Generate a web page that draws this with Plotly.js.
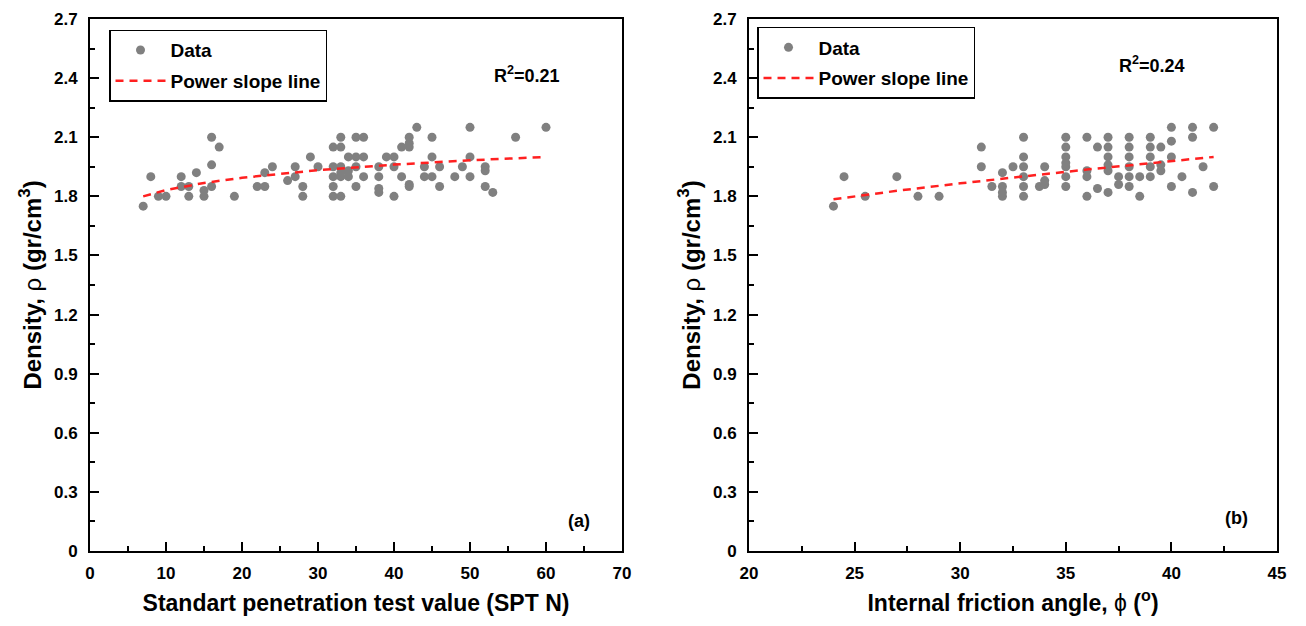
<!DOCTYPE html>
<html>
<head>
<meta charset="utf-8">
<script src="https://cdn.plot.ly/plotly-3.0.1.min.js"></script>
<style>html,body{margin:0;padding:0;background:#fff;}#chart{width:1306px;height:626px;}</style>
</head>
<body>
<div id="chart"></div>
<script>
// Panel (a): SPT N vs density
const sptN = [7,8,9,10,12,12,13,13,14,15,15,16,17,16,16,19,23,24,22,23,26,27,27,28,28,29,30,32,33,33,32,33,32,33,32,32,33,33,34,34,34,35,36,35,36,35,36,35,38,38,38,38,39,40,40,41,42,42,42,41,40,42,42,43,45,45,44,44,45,46,46,48,49,50,50,50,52,52,52,53,56,60];
const densA = [1.75,1.9,1.8,1.8,1.9,1.85,1.85,1.8,1.92,1.83,1.8,2.1,2.05,1.96,1.85,1.8,1.92,1.95,1.85,1.85,1.88,1.95,1.9,1.85,1.8,2.0,1.95,2.05,2.1,2.05,1.95,1.95,1.9,1.9,1.85,1.8,1.8,1.92,1.93,2.0,1.9,2.1,2.1,2.0,2.0,1.95,1.9,1.85,1.95,1.9,1.84,1.82,2.0,2.0,1.95,2.05,2.1,2.07,2.05,1.9,1.8,1.86,1.85,2.15,2.1,2.0,1.95,1.9,1.9,1.95,1.85,1.9,1.95,2.15,2.0,1.9,1.95,1.93,1.85,1.82,2.1,2.15];
const fitAx = [7,10,15,20,30,40,50,60];
const fitAy = [1.80,1.832,1.868,1.894,1.933,1.961,1.983,2.0];

// Panel (b): internal friction angle vs density
const phi = [24,24.5,25.5,27,28,29,31,31,31.5,32,32,32,32,32.5,33,33,33,33,33,33,34,34,34,33.75,35,35,35,35,35,35,35,36,36,36,36,36.5,36.5,37,37,37,37,37,37,37.5,37.5,38,38,38,38,38,38,38.5,38.5,39,39,39,39,39,39.5,39.5,39.5,40,40,40,40,40.5,41,41,41,41.5,42,42];
const densB = [1.75,1.9,1.8,1.9,1.8,1.8,2.05,1.95,1.85,1.92,1.85,1.82,1.8,1.95,2.1,2.0,1.95,1.9,1.85,1.8,1.95,1.88,1.86,1.85,2.1,2.05,2.0,1.97,1.95,1.9,1.85,2.1,1.93,1.9,1.8,1.84,2.05,2.1,2.05,2.0,1.96,1.93,1.82,1.9,1.86,2.1,2.05,2.0,1.95,1.9,1.85,1.9,1.8,2.1,2.05,2.0,1.95,1.9,2.05,1.96,1.93,1.85,2.15,2.08,2.0,1.9,1.82,2.15,2.1,1.95,2.15,1.85];
const fitBx = [24,27,30,33,36,39,42];
const fitBy = [1.785,1.828,1.866,1.902,1.936,1.968,2.0];

const xTicksA = [0,10,20,30,40,50,60,70];
const xTicksB = [20,25,30,35,40,45];
const yTicks = [0,0.3,0.6,0.9,1.2,1.5,1.8,2.1,2.4,2.7];
const yTickText = ['0','0.3','0.6','0.9','1.2','1.5','1.8','2.1','2.4','2.7'];

const FONT = 'Liberation Sans, Arial, sans-serif';
const marker = {color:'#808080', size:9, symbol:'circle'};
const fitLine = {color:'#ff2020', width:2.5, dash:'8px,6px'};

const traces = [
  {x:sptN, y:densA, type:'scatter', mode:'markers', name:'Data', marker:marker, xaxis:'x', yaxis:'y', legend:'legend', legendgroup:'a1'},
  {x:fitAx, y:fitAy, type:'scatter', mode:'lines', name:'Power slope line', line:fitLine, xaxis:'x', yaxis:'y', legend:'legend', legendgroup:'a2'},
  {x:phi, y:densB, type:'scatter', mode:'markers', name:'Data', marker:marker, xaxis:'x2', yaxis:'y2', legend:'legend2', legendgroup:'b1'},
  {x:fitBx, y:fitBy, type:'scatter', mode:'lines', name:'Power slope line', line:fitLine, xaxis:'x2', yaxis:'y2', legend:'legend2', legendgroup:'b2'}
];

const W = 1306;
const tickFont = {family:FONT, size:17, color:'#000', weight:'bold'};
function xAxis(dom, range, ticks, minorD, title, anchor){
  return {domain:dom, range:range, tickmode:'array', tickvals:ticks, ticktext:ticks.map(String),
    ticks:'inside', ticklen:9, tickwidth:2, tickcolor:'#000',
    minor:{ticks:'inside', ticklen:5, tickwidth:2, tickcolor:'#000', dtick:minorD, tick0:0, showgrid:false},
    showline:true, linewidth:2, linecolor:'#000', mirror:true, showgrid:false, zeroline:false,
    tickfont:tickFont, ticklabelstandoff:6, anchor:anchor,
    title:{text:title, font:{family:FONT, size:23, color:'#000'}, standoff:12}};
}
function yAxis(anchor){
  return {domain:[0,1], range:[0,2.7], tickmode:'array', tickvals:yTicks, ticktext:yTickText,
    ticks:'inside', ticklen:9, tickwidth:2, tickcolor:'#000',
    minor:{ticks:'inside', ticklen:5, tickwidth:2, tickcolor:'#000', dtick:0.15, tick0:0, showgrid:false},
    showline:true, linewidth:2, linecolor:'#000', mirror:true, showgrid:false, zeroline:false,
    tickfont:tickFont, ticklabelstandoff:7, anchor:anchor,
    title:{text:'<b>Density, </b>ρ<b> (gr/cm<sup>3</sup>)</b>', font:{family:FONT, size:24, color:'#000'}, standoff:6}};
}
const legendStyle = {font:{family:FONT, size:19, color:'#000', weight:'bold'}, bordercolor:'#000', borderwidth:1.5, bgcolor:'#fff',
  xanchor:'left', yanchor:'top', xref:'paper', yref:'paper', traceorder:'grouped', tracegroupgap:3, itemwidth:50};

const layout = {
  width:1306, height:626,
  margin:{l:0, r:0, t:19, b:75},
  paper_bgcolor:'#fff', plot_bgcolor:'#fff',
  showlegend:true,
  xaxis: xAxis([90/W, 622/W], [0,70], xTicksA, 5, '<b>Standart penetration test value (SPT N)</b>', 'y'),
  yaxis: yAxis('x'),
  xaxis2: xAxis([749/W, 1277/W], [20,45], xTicksB, 2.5, '<b>Internal friction angle, </b>ϕ<b> (<sup>o</sup>)</b>', 'y2'),
  yaxis2: yAxis('x2'),
  legend: Object.assign({x:109/W, y:0.98}, legendStyle),
  legend2: Object.assign({x:757/W, y:0.985}, legendStyle),
  annotations:[
    {xref:'x', yref:'y', x:57.5, y:2.42, text:'<b>R<sup>2</sup>=0.21</b>', showarrow:false, font:{family:FONT, size:18, color:'#000'}},
    {xref:'x', yref:'y', x:64.3, y:0.15, text:'<b>(a)</b>', showarrow:false, font:{family:FONT, size:18, color:'#000'}},
    {xref:'x2', yref:'y2', x:39.1, y:2.47, text:'<b>R<sup>2</sup>=0.24</b>', showarrow:false, font:{family:FONT, size:18, color:'#000'}},
    {xref:'x2', yref:'y2', x:43.1, y:0.17, text:'<b>(b)</b>', showarrow:false, font:{family:FONT, size:18, color:'#000'}}
  ]
};

Plotly.newPlot('chart', traces, layout, {displayModeBar:false, staticPlot:true});
</script>
</body>
</html>
